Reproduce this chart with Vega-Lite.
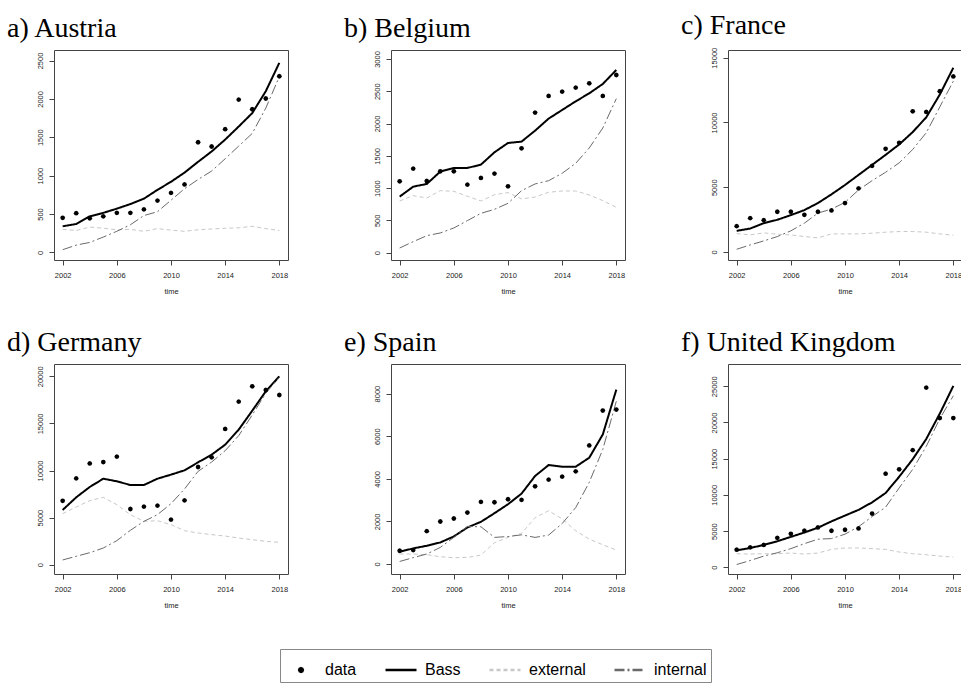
{
  "$schema": "https://vega.github.io/schema/vega-lite/v6.json",
  "background": "white",
  "padding": {"left": 6, "top": 11, "right": 0, "bottom": 0},
  "bounds": "flush",
  "columns": 3,
  "spacing": {"row": 104, "column": 103},
  "resolve": {"scale": {"color": "shared", "shape": "shared", "strokeDash": "shared"}},
  "datasets": {
    "d": [
      {"country": "Austria", "year": 2002, "data": 451, "Bass": 340, "external": 300, "internal": 35},
      {"country": "Austria", "year": 2003, "data": 511, "Bass": 370, "external": 285, "internal": 95},
      {"country": "Austria", "year": 2004, "data": 445, "Bass": 470, "external": 330, "internal": 130},
      {"country": "Austria", "year": 2005, "data": 470, "Bass": 515, "external": 315, "internal": 200},
      {"country": "Austria", "year": 2006, "data": 515, "Bass": 570, "external": 295, "internal": 275},
      {"country": "Austria", "year": 2007, "data": 515, "Bass": 630, "external": 300, "internal": 360},
      {"country": "Austria", "year": 2008, "data": 560, "Bass": 700, "external": 275, "internal": 480},
      {"country": "Austria", "year": 2009, "data": 675, "Bass": 815, "external": 310, "internal": 530},
      {"country": "Austria", "year": 2010, "data": 775, "Bass": 920, "external": 290, "internal": 680},
      {"country": "Austria", "year": 2011, "data": 885, "Bass": 1040, "external": 275, "internal": 830},
      {"country": "Austria", "year": 2012, "data": 1435, "Bass": 1180, "external": 295, "internal": 950},
      {"country": "Austria", "year": 2013, "data": 1380, "Bass": 1315, "external": 305, "internal": 1060},
      {"country": "Austria", "year": 2014, "data": 1605, "Bass": 1470, "external": 315, "internal": 1220},
      {"country": "Austria", "year": 2015, "data": 1990, "Bass": 1640, "external": 320, "internal": 1385},
      {"country": "Austria", "year": 2016, "data": 1865, "Bass": 1815, "external": 340, "internal": 1550},
      {"country": "Austria", "year": 2017, "data": 2005, "Bass": 2100, "external": 310, "internal": 1880},
      {"country": "Austria", "year": 2018, "data": 2295, "Bass": 2470, "external": 285, "internal": 2290},
      {"country": "Belgium", "year": 2002, "data": 1105, "Bass": 868, "external": 800, "internal": 72},
      {"country": "Belgium", "year": 2003, "data": 1301, "Bass": 1022, "external": 883, "internal": 170},
      {"country": "Belgium", "year": 2004, "data": 1110, "Bass": 1064, "external": 847, "internal": 263},
      {"country": "Belgium", "year": 2005, "data": 1260, "Bass": 1255, "external": 960, "internal": 305},
      {"country": "Belgium", "year": 2006, "data": 1260, "Bass": 1312, "external": 950, "internal": 382},
      {"country": "Belgium", "year": 2007, "data": 1053, "Bass": 1312, "external": 873, "internal": 496},
      {"country": "Belgium", "year": 2008, "data": 1157, "Bass": 1363, "external": 800, "internal": 609},
      {"country": "Belgium", "year": 2009, "data": 1224, "Bass": 1554, "external": 898, "internal": 671},
      {"country": "Belgium", "year": 2010, "data": 1028, "Bass": 1699, "external": 930, "internal": 764},
      {"country": "Belgium", "year": 2011, "data": 1616, "Bass": 1720, "external": 832, "internal": 960},
      {"country": "Belgium", "year": 2012, "data": 2169, "Bass": 1890, "external": 862, "internal": 1064},
      {"country": "Belgium", "year": 2013, "data": 2427, "Bass": 2076, "external": 935, "internal": 1115},
      {"country": "Belgium", "year": 2014, "data": 2494, "Bass": 2210, "external": 955, "internal": 1229},
      {"country": "Belgium", "year": 2015, "data": 2556, "Bass": 2344, "external": 955, "internal": 1384},
      {"country": "Belgium", "year": 2016, "data": 2623, "Bass": 2468, "external": 893, "internal": 1621},
      {"country": "Belgium", "year": 2017, "data": 2427, "Bass": 2613, "external": 806, "internal": 1931},
      {"country": "Belgium", "year": 2018, "data": 2752, "Bass": 2830, "external": 702, "internal": 2386},
      {"country": "France", "year": 2002, "data": 1991, "Bass": 1629, "external": 1422, "internal": 207},
      {"country": "France", "year": 2003, "data": 2612, "Bass": 1810, "external": 1319, "internal": 543},
      {"country": "France", "year": 2004, "data": 2457, "Bass": 2224, "external": 1474, "internal": 853},
      {"country": "France", "year": 2005, "data": 3103, "Bass": 2483, "external": 1370, "internal": 1190},
      {"country": "France", "year": 2006, "data": 3103, "Bass": 2845, "external": 1319, "internal": 1629},
      {"country": "France", "year": 2007, "data": 2870, "Bass": 3233, "external": 1190, "internal": 2224},
      {"country": "France", "year": 2008, "data": 3103, "Bass": 3776, "external": 1086, "internal": 3000},
      {"country": "France", "year": 2009, "data": 3207, "Bass": 4448, "external": 1396, "internal": 3310},
      {"country": "France", "year": 2010, "data": 3776, "Bass": 5172, "external": 1396, "internal": 3827},
      {"country": "France", "year": 2011, "data": 4913, "Bass": 5948, "external": 1396, "internal": 4784},
      {"country": "France", "year": 2012, "data": 6646, "Bass": 6724, "external": 1448, "internal": 5508},
      {"country": "France", "year": 2013, "data": 7965, "Bass": 7499, "external": 1526, "internal": 6155},
      {"country": "France", "year": 2014, "data": 8430, "Bass": 8301, "external": 1577, "internal": 6879},
      {"country": "France", "year": 2015, "data": 10861, "Bass": 9258, "external": 1577, "internal": 7913},
      {"country": "France", "year": 2016, "data": 10810, "Bass": 10396, "external": 1526, "internal": 9206},
      {"country": "France", "year": 2017, "data": 12413, "Bass": 12154, "external": 1396, "internal": 11197},
      {"country": "France", "year": 2018, "data": 13551, "Bass": 14223, "external": 1293, "internal": 13189},
      {"country": "Germany", "year": 2002, "data": 6780, "Bass": 5810, "external": 5420, "internal": 500},
      {"country": "Germany", "year": 2003, "data": 9160, "Bass": 7150, "external": 6120, "internal": 890},
      {"country": "Germany", "year": 2004, "data": 10750, "Bass": 8250, "external": 6800, "internal": 1270},
      {"country": "Germany", "year": 2005, "data": 10900, "Bass": 9130, "external": 7150, "internal": 1770},
      {"country": "Germany", "year": 2006, "data": 11470, "Bass": 8850, "external": 6370, "internal": 2550},
      {"country": "Germany", "year": 2007, "data": 5910, "Bass": 8460, "external": 5310, "internal": 3650},
      {"country": "Germany", "year": 2008, "data": 6160, "Bass": 8460, "external": 4600, "internal": 4600},
      {"country": "Germany", "year": 2009, "data": 6270, "Bass": 9130, "external": 4670, "internal": 5310},
      {"country": "Germany", "year": 2010, "data": 4780, "Bass": 9560, "external": 4250, "internal": 6480},
      {"country": "Germany", "year": 2011, "data": 6830, "Bass": 10020, "external": 3610, "internal": 8040},
      {"country": "Germany", "year": 2012, "data": 10370, "Bass": 10870, "external": 3360, "internal": 9910},
      {"country": "Germany", "year": 2013, "data": 11400, "Bass": 11680, "external": 3190, "internal": 10900},
      {"country": "Germany", "year": 2014, "data": 14410, "Bass": 12740, "external": 3040, "internal": 12100},
      {"country": "Germany", "year": 2015, "data": 17310, "Bass": 14340, "external": 2830, "internal": 13700},
      {"country": "Germany", "year": 2016, "data": 18940, "Bass": 16350, "external": 2650, "internal": 15900},
      {"country": "Germany", "year": 2017, "data": 18550, "Bass": 18410, "external": 2480, "internal": 18200},
      {"country": "Germany", "year": 2018, "data": 18020, "Bass": 20000, "external": 2370, "internal": 19900},
      {"country": "Spain", "year": 2002, "data": 624, "Bass": 577, "external": 470, "internal": 120},
      {"country": "Spain", "year": 2003, "data": 655, "Bass": 733, "external": 470, "internal": 300},
      {"country": "Spain", "year": 2004, "data": 1543, "Bass": 857, "external": 440, "internal": 470},
      {"country": "Spain", "year": 2005, "data": 1996, "Bass": 1013, "external": 343, "internal": 780},
      {"country": "Spain", "year": 2006, "data": 2136, "Bass": 1294, "external": 296, "internal": 1250},
      {"country": "Spain", "year": 2007, "data": 2416, "Bass": 1715, "external": 310, "internal": 1760},
      {"country": "Spain", "year": 2008, "data": 2915, "Bass": 1980, "external": 420, "internal": 1750},
      {"country": "Spain", "year": 2009, "data": 2900, "Bass": 2385, "external": 1000, "internal": 1250},
      {"country": "Spain", "year": 2010, "data": 3040, "Bass": 2806, "external": 1250, "internal": 1290},
      {"country": "Spain", "year": 2011, "data": 3009, "Bass": 3305, "external": 1435, "internal": 1370},
      {"country": "Spain", "year": 2012, "data": 3648, "Bass": 4131, "external": 2180, "internal": 1250},
      {"country": "Spain", "year": 2013, "data": 3960, "Bass": 4646, "external": 2500, "internal": 1360},
      {"country": "Spain", "year": 2014, "data": 4100, "Bass": 4568, "external": 2120, "internal": 1900},
      {"country": "Spain", "year": 2015, "data": 4350, "Bass": 4568, "external": 1560, "internal": 2650},
      {"country": "Spain", "year": 2016, "data": 5566, "Bass": 4989, "external": 1170, "internal": 3835},
      {"country": "Spain", "year": 2017, "data": 7203, "Bass": 6080, "external": 904, "internal": 5380},
      {"country": "Spain", "year": 2018, "data": 7250, "Bass": 8185, "external": 655, "internal": 7640},
      {"country": "United Kingdom", "year": 2002, "data": 2425, "Bass": 2330, "external": 1870, "internal": 373},
      {"country": "United Kingdom", "year": 2003, "data": 2750, "Bass": 2660, "external": 1820, "internal": 930},
      {"country": "United Kingdom", "year": 2004, "data": 3080, "Bass": 3080, "external": 1870, "internal": 1540},
      {"country": "United Kingdom", "year": 2005, "data": 4060, "Bass": 3590, "external": 1870, "internal": 2000},
      {"country": "United Kingdom", "year": 2006, "data": 4620, "Bass": 4200, "external": 1960, "internal": 2570},
      {"country": "United Kingdom", "year": 2007, "data": 5040, "Bass": 4800, "external": 1820, "internal": 3260},
      {"country": "United Kingdom", "year": 2008, "data": 5500, "Bass": 5460, "external": 1960, "internal": 3870},
      {"country": "United Kingdom", "year": 2009, "data": 5040, "Bass": 6340, "external": 2470, "internal": 3960},
      {"country": "United Kingdom", "year": 2010, "data": 5180, "Bass": 7140, "external": 2660, "internal": 4570},
      {"country": "United Kingdom", "year": 2011, "data": 5360, "Bass": 7930, "external": 2660, "internal": 5600},
      {"country": "United Kingdom", "year": 2012, "data": 7420, "Bass": 8960, "external": 2570, "internal": 7000},
      {"country": "United Kingdom", "year": 2013, "data": 12920, "Bass": 10260, "external": 2470, "internal": 8300},
      {"country": "United Kingdom", "year": 2014, "data": 13530, "Bass": 12500, "external": 2100, "internal": 10960},
      {"country": "United Kingdom", "year": 2015, "data": 16180, "Bass": 14925, "external": 1870, "internal": 13530},
      {"country": "United Kingdom", "year": 2016, "data": 24810, "Bass": 17720, "external": 1730, "internal": 16700},
      {"country": "United Kingdom", "year": 2017, "data": 20610, "Bass": 21220, "external": 1540, "internal": 20520},
      {"country": "United Kingdom", "year": 2018, "data": 20610, "Bass": 25050, "external": 1400, "internal": 23690}
    ]
  },
  "concat": [
    {
      "title": {"text": "a) Austria"},
      "width": 234, "height": 210,
      "data": {"name": "d"},
      "transform": [{"filter": "datum.country === 'Austria'"}, {"fold": ["data", "Bass", "external", "internal"], "as": ["series", "value"]}],
      "encoding": {
        "x": {"field": "year", "type": "quantitative", "scale": {"domain": [2001.36, 2018.64], "nice": false, "zero": false}, "axis": {"values": [2002, 2006, 2010, 2014, 2018], "format": "d", "title": "time"}},
        "y": {"field": "value", "type": "quantitative", "scale": {"domain": [-99, 2637], "nice": false, "zero": false}, "axis": {"values": [0, 500, 1000, 1500, 2000, 2500], "format": "d"}},
        "color": {"field": "series", "type": "nominal", "scale": {"domain": ["data", "Bass", "external", "internal"], "range": ["#000000", "#000000", "#c8c8c8", "#6a6a6a"]}, "legend": {"title": null}}
      },
      "layer": [
        {"transform": [{"filter": "datum.series === 'Bass'"}], "mark": {"type": "line", "strokeWidth": 2}, "encoding": {"strokeDash": {"field": "series", "type": "nominal", "scale": {"domain": ["data", "Bass", "external", "internal"], "range": [[1, 0], [1, 0], [4, 3], [10, 3, 2, 3]]}, "legend": {"title": null}}}},
        {"transform": [{"filter": "datum.series === 'external' || datum.series === 'internal'"}], "mark": {"type": "line", "strokeWidth": 1}, "encoding": {"strokeDash": {"field": "series", "type": "nominal", "scale": {"domain": ["data", "Bass", "external", "internal"], "range": [[1, 0], [1, 0], [4, 3], [10, 3, 2, 3]]}, "legend": {"title": null}}}},
        {"transform": [{"filter": "datum.series === 'data'"}], "mark": {"type": "point", "filled": true, "size": 1600, "opacity": 1}, "encoding": {"shape": {"field": "series", "type": "nominal", "scale": {"domain": ["data", "Bass", "external", "internal"], "range": ["M0.12,0L0.085,0.085L0,0.12L-0.085,0.085L-0.12,0L-0.085,-0.085L0,-0.12L0.085,-0.085Z", "stroke", "stroke", "stroke"]}, "legend": {"title": null}}}}
      ]
    },
    {
      "title": {"text": "b) Belgium"},
      "width": 234, "height": 210,
      "data": {"name": "d"},
      "transform": [{"filter": "datum.country === 'Belgium'"}, {"fold": ["data", "Bass", "external", "internal"], "as": ["series", "value"]}],
      "encoding": {
        "x": {"field": "year", "type": "quantitative", "scale": {"domain": [2001.36, 2018.64], "nice": false, "zero": false}, "axis": {"values": [2002, 2006, 2010, 2014, 2018], "format": "d", "title": "time"}},
        "y": {"field": "value", "type": "quantitative", "scale": {"domain": [-114, 3139], "nice": false, "zero": false}, "axis": {"values": [0, 500, 1000, 1500, 2000, 2500, 3000], "format": "d"}},
        "color": {"field": "series", "type": "nominal", "scale": {"domain": ["data", "Bass", "external", "internal"], "range": ["#000000", "#000000", "#c8c8c8", "#6a6a6a"]}, "legend": {"title": null}}
      },
      "layer": [
        {"transform": [{"filter": "datum.series === 'Bass'"}], "mark": {"type": "line", "strokeWidth": 2}, "encoding": {"strokeDash": {"field": "series", "type": "nominal", "scale": {"domain": ["data", "Bass", "external", "internal"], "range": [[1, 0], [1, 0], [4, 3], [10, 3, 2, 3]]}, "legend": {"title": null}}}},
        {"transform": [{"filter": "datum.series === 'external' || datum.series === 'internal'"}], "mark": {"type": "line", "strokeWidth": 1}, "encoding": {"strokeDash": {"field": "series", "type": "nominal", "scale": {"domain": ["data", "Bass", "external", "internal"], "range": [[1, 0], [1, 0], [4, 3], [10, 3, 2, 3]]}, "legend": {"title": null}}}},
        {"transform": [{"filter": "datum.series === 'data'"}], "mark": {"type": "point", "filled": true, "size": 1600, "opacity": 1}, "encoding": {"shape": {"field": "series", "type": "nominal", "scale": {"domain": ["data", "Bass", "external", "internal"], "range": ["M0.12,0L0.085,0.085L0,0.12L-0.085,0.085L-0.12,0L-0.085,-0.085L0,-0.12L0.085,-0.085Z", "stroke", "stroke", "stroke"]}, "legend": {"title": null}}}}
      ]
    },
    {
      "title": {"text": "c) France"},
      "width": 234, "height": 210,
      "data": {"name": "d"},
      "transform": [{"filter": "datum.country === 'France'"}, {"fold": ["data", "Bass", "external", "internal"], "as": ["series", "value"]}],
      "encoding": {
        "x": {"field": "year", "type": "quantitative", "scale": {"domain": [2001.36, 2018.64], "nice": false, "zero": false}, "axis": {"values": [2002, 2006, 2010, 2014, 2018], "format": "d", "title": "time"}},
        "y": {"field": "value", "type": "quantitative", "scale": {"domain": [-621, 15595], "nice": false, "zero": false}, "axis": {"values": [0, 5000, 10000, 15000], "format": "d"}},
        "color": {"field": "series", "type": "nominal", "scale": {"domain": ["data", "Bass", "external", "internal"], "range": ["#000000", "#000000", "#c8c8c8", "#6a6a6a"]}, "legend": {"title": null}}
      },
      "layer": [
        {"transform": [{"filter": "datum.series === 'Bass'"}], "mark": {"type": "line", "strokeWidth": 2}, "encoding": {"strokeDash": {"field": "series", "type": "nominal", "scale": {"domain": ["data", "Bass", "external", "internal"], "range": [[1, 0], [1, 0], [4, 3], [10, 3, 2, 3]]}, "legend": {"title": null}}}},
        {"transform": [{"filter": "datum.series === 'external' || datum.series === 'internal'"}], "mark": {"type": "line", "strokeWidth": 1}, "encoding": {"strokeDash": {"field": "series", "type": "nominal", "scale": {"domain": ["data", "Bass", "external", "internal"], "range": [[1, 0], [1, 0], [4, 3], [10, 3, 2, 3]]}, "legend": {"title": null}}}},
        {"transform": [{"filter": "datum.series === 'data'"}], "mark": {"type": "point", "filled": true, "size": 1600, "opacity": 1}, "encoding": {"shape": {"field": "series", "type": "nominal", "scale": {"domain": ["data", "Bass", "external", "internal"], "range": ["M0.12,0L0.085,0.085L0,0.12L-0.085,0.085L-0.12,0L-0.085,-0.085L0,-0.12L0.085,-0.085Z", "stroke", "stroke", "stroke"]}, "legend": {"title": null}}}}
      ]
    },
    {
      "title": {"text": "d) Germany"},
      "width": 234, "height": 210,
      "data": {"name": "d"},
      "transform": [{"filter": "datum.country === 'Germany'"}, {"fold": ["data", "Bass", "external", "internal"], "as": ["series", "value"]}],
      "encoding": {
        "x": {"field": "year", "type": "quantitative", "scale": {"domain": [2001.36, 2018.64], "nice": false, "zero": false}, "axis": {"values": [2002, 2006, 2010, 2014, 2018], "format": "d", "title": "time"}},
        "y": {"field": "value", "type": "quantitative", "scale": {"domain": [-991, 21310], "nice": false, "zero": false}, "axis": {"values": [0, 5000, 10000, 15000, 20000], "format": "d"}},
        "color": {"field": "series", "type": "nominal", "scale": {"domain": ["data", "Bass", "external", "internal"], "range": ["#000000", "#000000", "#c8c8c8", "#6a6a6a"]}, "legend": {"title": null}}
      },
      "layer": [
        {"transform": [{"filter": "datum.series === 'Bass'"}], "mark": {"type": "line", "strokeWidth": 2}, "encoding": {"strokeDash": {"field": "series", "type": "nominal", "scale": {"domain": ["data", "Bass", "external", "internal"], "range": [[1, 0], [1, 0], [4, 3], [10, 3, 2, 3]]}, "legend": {"title": null}}}},
        {"transform": [{"filter": "datum.series === 'external' || datum.series === 'internal'"}], "mark": {"type": "line", "strokeWidth": 1}, "encoding": {"strokeDash": {"field": "series", "type": "nominal", "scale": {"domain": ["data", "Bass", "external", "internal"], "range": [[1, 0], [1, 0], [4, 3], [10, 3, 2, 3]]}, "legend": {"title": null}}}},
        {"transform": [{"filter": "datum.series === 'data'"}], "mark": {"type": "point", "filled": true, "size": 1600, "opacity": 1}, "encoding": {"shape": {"field": "series", "type": "nominal", "scale": {"domain": ["data", "Bass", "external", "internal"], "range": ["M0.12,0L0.085,0.085L0,0.12L-0.085,0.085L-0.12,0L-0.085,-0.085L0,-0.12L0.085,-0.085Z", "stroke", "stroke", "stroke"]}, "legend": {"title": null}}}}
      ]
    },
    {
      "title": {"text": "e) Spain"},
      "width": 234, "height": 210,
      "data": {"name": "d"},
      "transform": [{"filter": "datum.country === 'Spain'"}, {"fold": ["data", "Bass", "external", "internal"], "as": ["series", "value"]}],
      "encoding": {
        "x": {"field": "year", "type": "quantitative", "scale": {"domain": [2001.36, 2018.64], "nice": false, "zero": false}, "axis": {"values": [2002, 2006, 2010, 2014, 2018], "format": "d", "title": "time"}},
        "y": {"field": "value", "type": "quantitative", "scale": {"domain": [-468, 9388], "nice": false, "zero": false}, "axis": {"values": [0, 2000, 4000, 6000, 8000], "format": "d"}},
        "color": {"field": "series", "type": "nominal", "scale": {"domain": ["data", "Bass", "external", "internal"], "range": ["#000000", "#000000", "#c8c8c8", "#6a6a6a"]}, "legend": {"title": null}}
      },
      "layer": [
        {"transform": [{"filter": "datum.series === 'Bass'"}], "mark": {"type": "line", "strokeWidth": 2}, "encoding": {"strokeDash": {"field": "series", "type": "nominal", "scale": {"domain": ["data", "Bass", "external", "internal"], "range": [[1, 0], [1, 0], [4, 3], [10, 3, 2, 3]]}, "legend": {"title": null}}}},
        {"transform": [{"filter": "datum.series === 'external' || datum.series === 'internal'"}], "mark": {"type": "line", "strokeWidth": 1}, "encoding": {"strokeDash": {"field": "series", "type": "nominal", "scale": {"domain": ["data", "Bass", "external", "internal"], "range": [[1, 0], [1, 0], [4, 3], [10, 3, 2, 3]]}, "legend": {"title": null}}}},
        {"transform": [{"filter": "datum.series === 'data'"}], "mark": {"type": "point", "filled": true, "size": 1600, "opacity": 1}, "encoding": {"shape": {"field": "series", "type": "nominal", "scale": {"domain": ["data", "Bass", "external", "internal"], "range": ["M0.12,0L0.085,0.085L0,0.12L-0.085,0.085L-0.12,0L-0.085,-0.085L0,-0.12L0.085,-0.085Z", "stroke", "stroke", "stroke"]}, "legend": {"title": null}}}}
      ]
    },
    {
      "title": {"text": "f) United Kingdom"},
      "width": 234, "height": 210,
      "data": {"name": "d"},
      "transform": [{"filter": "datum.country === 'United Kingdom'"}, {"fold": ["data", "Bass", "external", "internal"], "as": ["series", "value"]}],
      "encoding": {
        "x": {"field": "year", "type": "quantitative", "scale": {"domain": [2001.36, 2018.64], "nice": false, "zero": false}, "axis": {"values": [2002, 2006, 2010, 2014, 2018], "format": "d", "title": "time"}},
        "y": {"field": "value", "type": "quantitative", "scale": {"domain": [-933, 28078], "nice": false, "zero": false}, "axis": {"values": [0, 5000, 10000, 15000, 20000, 25000], "format": "d"}},
        "color": {"field": "series", "type": "nominal", "scale": {"domain": ["data", "Bass", "external", "internal"], "range": ["#000000", "#000000", "#c8c8c8", "#6a6a6a"]}, "legend": {"title": null}}
      },
      "layer": [
        {"transform": [{"filter": "datum.series === 'Bass'"}], "mark": {"type": "line", "strokeWidth": 2}, "encoding": {"strokeDash": {"field": "series", "type": "nominal", "scale": {"domain": ["data", "Bass", "external", "internal"], "range": [[1, 0], [1, 0], [4, 3], [10, 3, 2, 3]]}, "legend": {"title": null}}}},
        {"transform": [{"filter": "datum.series === 'external' || datum.series === 'internal'"}], "mark": {"type": "line", "strokeWidth": 1}, "encoding": {"strokeDash": {"field": "series", "type": "nominal", "scale": {"domain": ["data", "Bass", "external", "internal"], "range": [[1, 0], [1, 0], [4, 3], [10, 3, 2, 3]]}, "legend": {"title": null}}}},
        {"transform": [{"filter": "datum.series === 'data'"}], "mark": {"type": "point", "filled": true, "size": 1600, "opacity": 1}, "encoding": {"shape": {"field": "series", "type": "nominal", "scale": {"domain": ["data", "Bass", "external", "internal"], "range": ["M0.12,0L0.085,0.085L0,0.12L-0.085,0.085L-0.12,0L-0.085,-0.085L0,-0.12L0.085,-0.085Z", "stroke", "stroke", "stroke"]}, "legend": {"title": null}}}}
      ]
    }
  ],
  "config": {
    "view": {"stroke": "#444", "strokeWidth": 1},
    "title": {"anchor": "start", "frame": "group", "dx": -47, "offset": 7, "baseline": "alphabetic", "font": "Liberation Serif", "fontSize": 28, "fontWeight": "normal", "color": "#000"},
    "axis": {"domain": false, "grid": false, "ticks": true, "tickColor": "#444", "tickSize": 5, "labelFont": "Liberation Sans", "labelFontSize": 7.5, "labelColor": "#222", "titleFont": "Liberation Sans", "titleFontSize": 7.5, "titleFontWeight": "normal", "titleColor": "#222"},
    "axisX": {"labelPadding": 6, "titlePadding": 9},
    "axisY": {"labelAngle": 270, "labelAlign": "center", "labelBaseline": "bottom", "labelPadding": 5, "title": null},
    "legend": {"orient": "none", "legendX": 226, "legendY": 599, "direction": "horizontal", "symbolType": "stroke", "symbolSize": 961, "symbolStrokeWidth": 2.5, "symbolFillColor": "#000", "labelFont": "Liberation Sans", "labelFontSize": 16, "labelColor": "#000", "labelOffset": 7, "columnPadding": 23, "padding": 4, "strokeColor": "#888", "cornerRadius": 0}
  }
}
